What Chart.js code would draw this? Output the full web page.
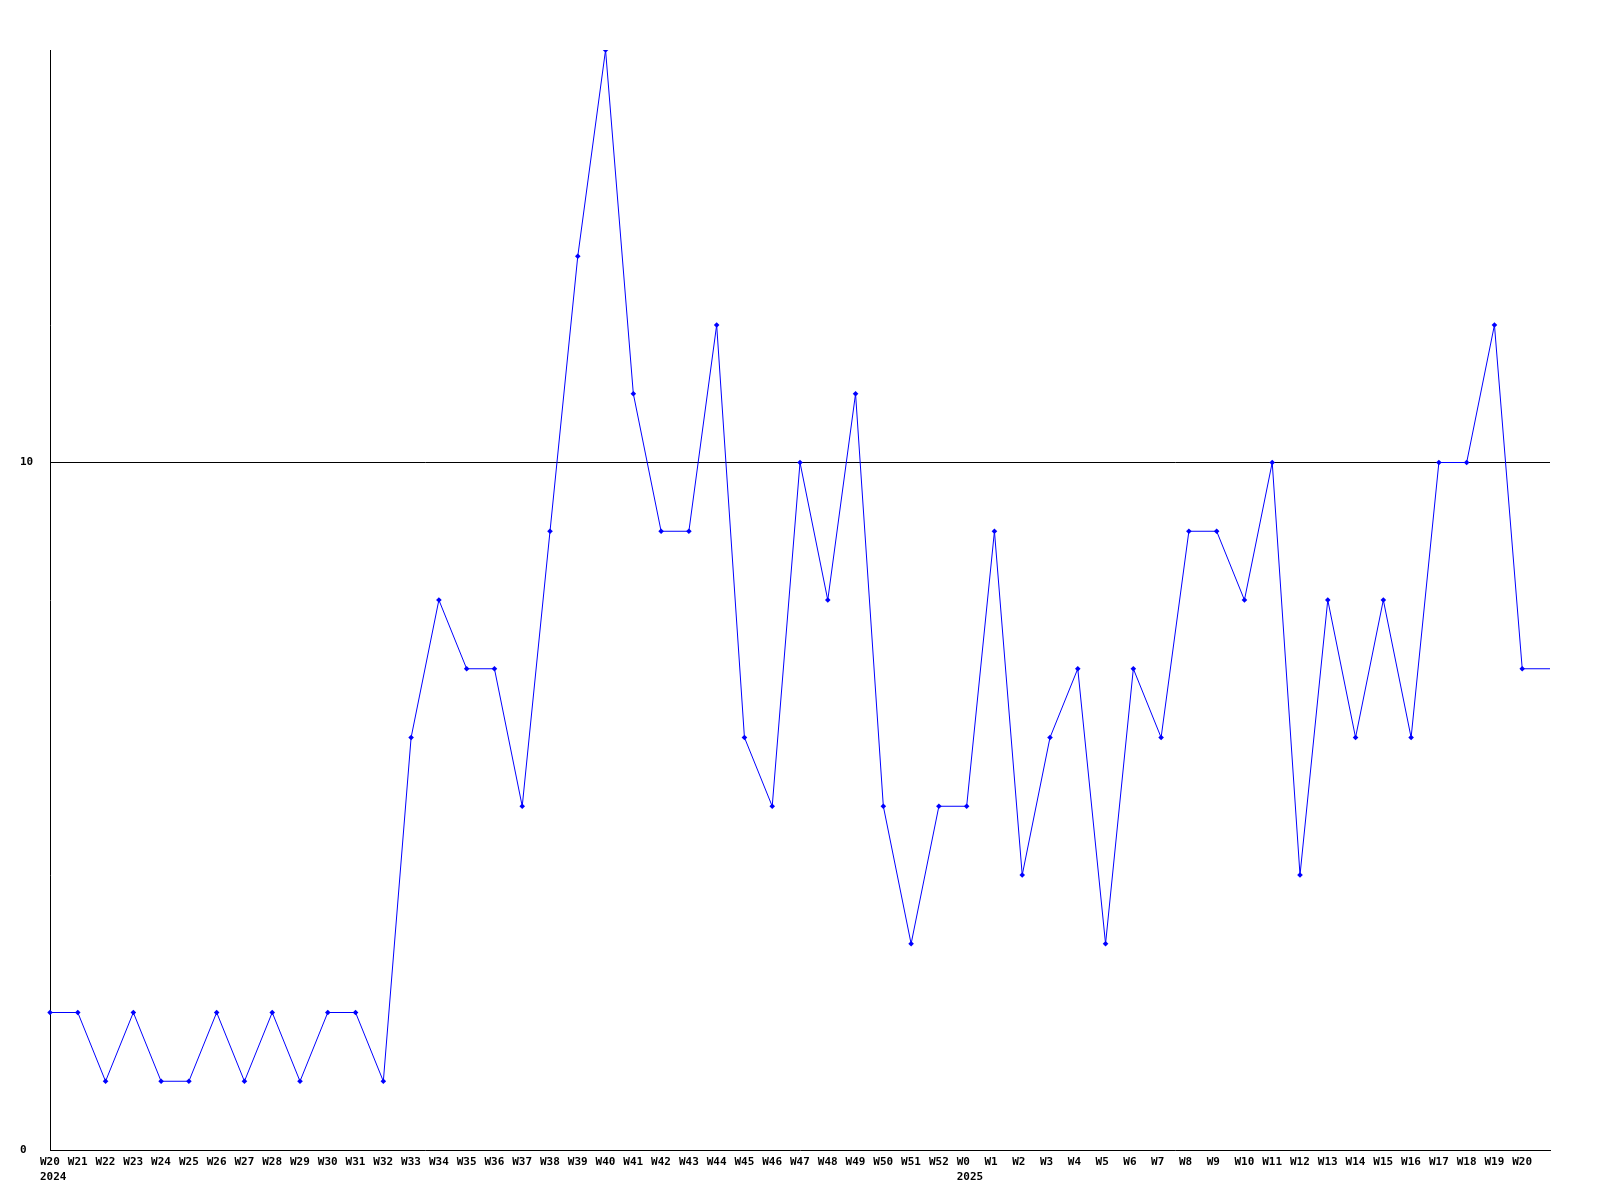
<!DOCTYPE html>
<html>
<head>
<meta charset="utf-8">
<script src="https://cdn.jsdelivr.net/npm/chart.js@4"></script>
<style>
html,body{margin:0;padding:0;background:#fff;}
#wrap{width:1600px;height:1200px;}
</style>
</head>
<body>
<div id="wrap"><canvas id="c" width="1600" height="1200"></canvas></div>
<script>
const weeks = ['W20','W21','W22','W23','W24','W25','W26','W27','W28','W29','W30','W31','W32','W33','W34','W35','W36','W37','W38','W39','W40','W41','W42','W43','W44','W45','W46','W47','W48','W49','W50','W51','W52','W0','W1','W2','W3','W4','W5','W6','W7','W8','W9','W10','W11','W12','W13','W14','W15','W16','W17','W18','W19','W20'];
const values = [2,2,1,2,1,1,2,1,2,1,2,2,1,6,8,7,7,5,9,13,16,11,9,9,12,6,5,10,8,11,5,3,5,5,9,4,6,7,3,7,6,9,9,8,10,4,8,6,8,6,10,10,12,7];
const yearTexts = ['2024','2025'];
const yearIndex = [0, 33];
const yTicks = [0, 10];
const yMax = 16;

const FONT = 'bold 11px "DejaVu Sans Mono"';
const lineData = values.concat([values[values.length-1]]);
const lineLabels = weeks.concat(['']);
const radii = lineData.map((v,i)=> i < values.length ? 2.8 : 0);

const labelPlugin = {
  id:'labels',
  afterDraw(chart){
    const ctx = chart.ctx, xs = chart.scales.x, ys = chart.scales.y;
    ctx.save();
    ctx.font = FONT;
    ctx.fillStyle = '#000';
    ctx.textBaseline = 'middle';
    ctx.textAlign = 'left';
    const base = ys.getPixelForValue(0);
    weeks.forEach((w,i)=>{
      ctx.fillText(w, xs.getPixelForValue(i) - 10, base + 12);
    });
    yearTexts.forEach((t,k)=>{
      ctx.fillText(t, xs.getPixelForValue(yearIndex[k]) - 10, base + 27);
    });
    yTicks.forEach(v=>{
      ctx.fillText(String(v), 20, ys.getPixelForValue(v));
    });
    ctx.restore();
  }
};

new Chart(document.getElementById('c'), {
  type:'line',
  data:{
    labels: lineLabels,
    datasets:[{
      data: lineData,
      borderColor:'#0000ff',
      backgroundColor:'#0000ff',
      borderWidth:1,
      pointStyle:'rectRot',
      pointRadius: radii,
      pointBorderWidth:0,
      pointHoverRadius:0,
      tension:0,
      fill:false
    }]
  },
  options:{
    responsive:false,
    animation:false,
    events:[],
    layout:{padding:{left:50,right:50,top:50,bottom:50}},
    plugins:{legend:{display:false},tooltip:{enabled:false}},
    scales:{
      x:{
        type:'category',
        offset:false,
        ticks:{display:false},
        grid:{display:false, drawTicks:false},
        border:{display:true,color:'#000',width:1}
      },
      y:{
        min:0, max:yMax,
        afterBuildTicks(scale){ scale.ticks = yTicks.map(v=>({value:v})); },
        ticks:{display:false},
        grid:{drawTicks:false, color:(c)=> c.tick && c.tick.value===10 ? '#000' : 'rgba(0,0,0,0)', lineWidth:1},
        border:{display:true,color:'#000',width:1}
      }
    }
  },
  plugins:[labelPlugin]
});
</script>
</body>
</html>
